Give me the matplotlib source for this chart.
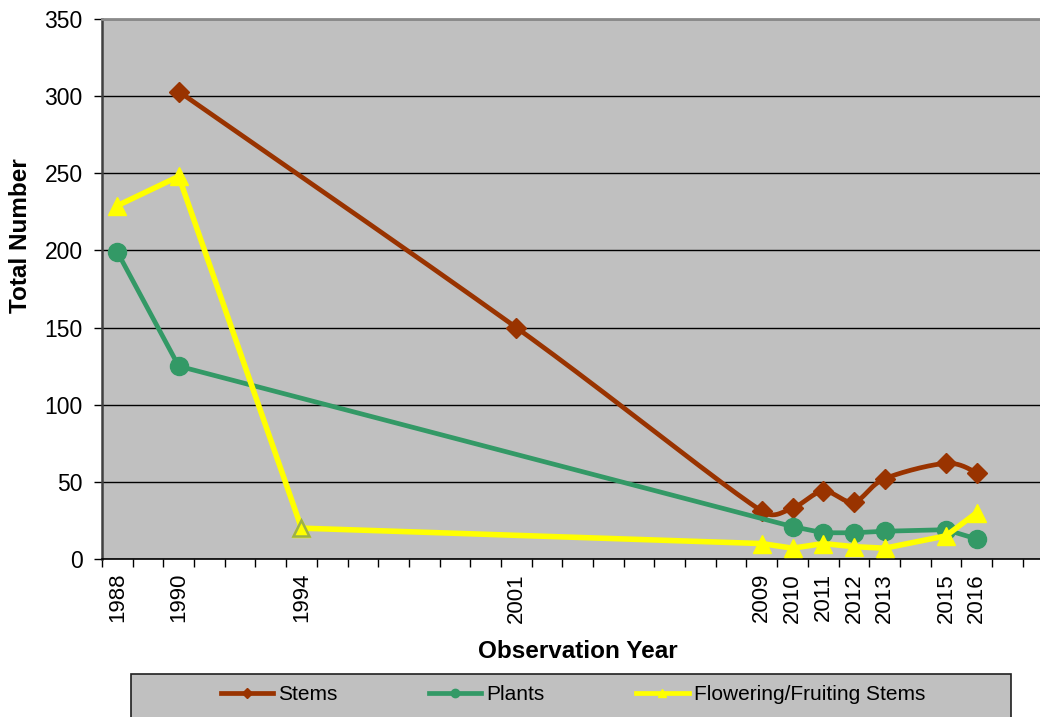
import numpy as np
import matplotlib
matplotlib.use("Agg")
import matplotlib.pyplot as plt
from matplotlib.lines import Line2D
from matplotlib.patches import Rectangle

plt.rcParams['font.family'] = ['Liberation Sans', 'DejaVu Sans']

# Survey counts by observation year
stem_years = [1990, 2001, 2009, 2010, 2011, 2012, 2013, 2015, 2016]
stems = [303, 150, 31, 33, 44, 37, 52, 62, 56]

plant_years = [1988, 1990, 2010, 2011, 2012, 2013, 2015, 2016]
plants = [199, 125, 21, 17, 17, 18, 19, 13]

flower_years = [1988, 1990, 1994, 2009, 2010, 2011, 2012, 2013, 2015, 2016]
flowering = [229, 248, 20, 10, 7, 10, 8, 7, 15, 30]

label_years = [1988, 1990, 1994, 2001, 2009, 2010, 2011, 2012, 2013, 2015, 2016]
y_ticks = [0, 50, 100, 150, 200, 250, 300, 350]

STEM_C = '#993300'
PLANT_C = '#339966'
FLOWER_C = '#FFFF00'
BG = '#C0C0C0'

W, H = 1040, 717
fig = plt.figure(figsize=(W / 100, H / 100), dpi=100)

x0, x1 = 1987.5, 2018.5
px_per_year = 30.69
left_px, top_px, bottom_px = 102, 19, 559
ax_w = (x1 - x0) * px_per_year
ax = fig.add_axes([left_px / W, 1 - bottom_px / H, ax_w / W, (bottom_px - top_px) / H])
ax.set_facecolor(BG)
ax.set_xlim(x0, x1)
ax.set_ylim(0, 350)

# horizontal gridlines
ax.set_yticks(y_ticks)
ax.yaxis.grid(True, color='black', linewidth=1.0)
ax.set_axisbelow(True)

ax.tick_params(axis='y', direction='out', length=6, width=1, color='black',
               labelsize=16.5, pad=8)
ax.set_yticklabels([str(v) for v in y_ticks])

# category boundaries as tick marks, year labels in between
ax.set_xticks(np.arange(x0, 2018.0, 1.0))
ax.set_xticklabels([])
ax.tick_params(axis='x', which='major', direction='out', length=6, width=1, color='black')
ax.set_xticks(label_years, minor=True)
ax.set_xticklabels([str(y) for y in label_years], minor=True, rotation=90, fontsize=16)
ax.tick_params(axis='x', which='minor', length=0, pad=10)

ax.spines['right'].set_visible(False)
ax.spines['top'].set_color('#8a8a8a')
ax.spines['top'].set_linewidth(2)
ax.spines['left'].set_color('#404040')
ax.spines['left'].set_linewidth(1.8)
ax.spines['bottom'].set_color('black')
ax.spines['bottom'].set_linewidth(1.2)


def smooth_path(xs, ys, n=40):
    """Bezier smoothing in screen space, control arms capped at half a segment."""
    P = ax.transData.transform(np.column_stack([xs, ys]))
    out = []
    for i in range(len(P) - 1):
        p0 = P[i - 1] if i > 0 else P[i]
        p1, p2 = P[i], P[i + 1]
        p3 = P[i + 2] if i + 2 < len(P) else P[i + 1]
        d12 = np.hypot(*(p2 - p1))
        arms = []
        for t in ((p2 - p0) / 6.0, (p3 - p1) / 6.0):
            L = np.hypot(*t)
            if L > d12 / 2 and L > 0:
                t = t * (d12 / 2) / L
            arms.append(t)
        c1, c2 = p1 + arms[0], p2 - arms[1]
        s = np.linspace(0, 1, n)[:, None]
        seg = ((1 - s) ** 3) * p1 + 3 * ((1 - s) ** 2) * s * c1 + 3 * (1 - s) * s ** 2 * c2 + s ** 3 * p2
        out.append(seg if i == 0 else seg[1:])
    pts = ax.transData.inverted().transform(np.vstack(out))
    return pts[:, 0], pts[:, 1]


lw = 3.4
sx, sy = smooth_path(stem_years, stems)
ax.plot(sx, sy, color=STEM_C, linewidth=lw, solid_joinstyle='round', solid_capstyle='round', zorder=3)
ax.plot(stem_years, stems, linestyle='none', marker='D', markersize=10,
        color=STEM_C, markeredgecolor=STEM_C, zorder=3)

ax.plot(plant_years, plants, color=PLANT_C, linewidth=lw, marker='o', markersize=13,
        markeredgecolor=PLANT_C, solid_joinstyle='round', zorder=4)

ax.plot(flower_years, flowering, color=FLOWER_C, linewidth=4.0, marker='^', markersize=13,
        markeredgecolor=FLOWER_C, solid_joinstyle='round', zorder=5)
# the 1994 point carries an olive outline
i94 = flower_years.index(1994)
ax.plot([flower_years[i94]], [flowering[i94]], linestyle='none', marker='^', markersize=12,
        markerfacecolor=FLOWER_C, markeredgecolor='#9BB04A', markeredgewidth=1.8, zorder=6)

# axis titles
fig.text(21 / W, 1 - 236 / H, 'Total Number', rotation=90, ha='center', va='center',
         fontsize=17.5, fontweight='bold')
fig.text(578 / W, 1 - 652 / H, 'Observation Year', ha='center', va='center',
         fontsize=17.5, fontweight='bold')

# legend panel
fig.patches.append(Rectangle((131 / W, -0.01), (1011 - 131) / W, (717 - 674) / H + 0.01,
                             transform=fig.transFigure, facecolor=BG, edgecolor='#202020',
                             linewidth=1.2, zorder=0))
handles = [
    Line2D([], [], color=STEM_C, linewidth=3.4, marker='D', markersize=5),
    Line2D([], [], color=PLANT_C, linewidth=3.4, marker='o', markersize=6),
    Line2D([], [], color=FLOWER_C, linewidth=3.4, marker='^', markersize=6),
]
fig.legend(handles, ['Stems', 'Plants', 'Flowering/Fruiting Stems'], loc='center',
           bbox_to_anchor=(573 / W, 1 - 695 / H), ncol=3, frameon=False, fontsize=15,
           handlelength=2.5, handletextpad=0.25, columnspacing=4.4)

fig.savefig('out.png', dpi=100)
